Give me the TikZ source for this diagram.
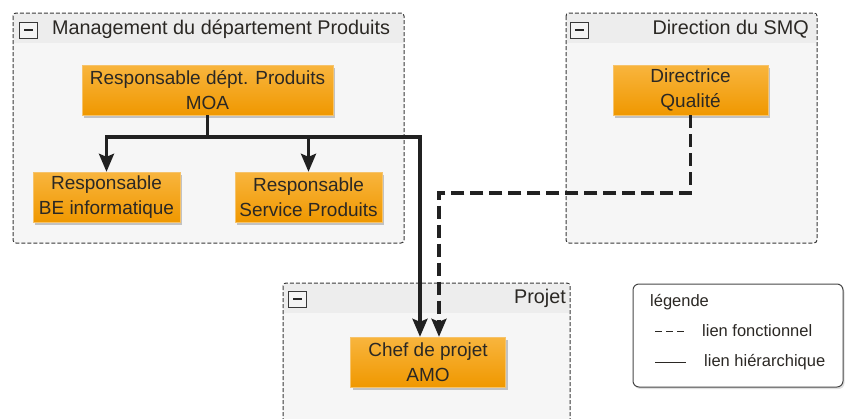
\documentclass[tikz,border=0pt]{standalone}
\usepackage{fontspec}
\setmainfont{Liberation Sans}
\usepackage{tikz}
\usetikzlibrary{arrows.meta}
\usetikzlibrary{positioning,shadows}
\definecolor{OrangeHaut}{HTML}{F8B53E}
\definecolor{OrangeBas}{HTML}{F09800}
\definecolor{OrangeBord}{HTML}{F6C36A}
\definecolor{GrisFond}{HTML}{F6F6F6}
\definecolor{GrisBandeau}{HTML}{EDEDED}
\definecolor{Encre}{HTML}{2B2824}
\colorlet{Trait}{black!87}

\begin{document}
\begin{tikzpicture}[
x=1pt,y=-1pt,
Poste/.style={draw=OrangeBord,thin,top color=OrangeHaut,bottom color=OrangeBas,
  text=Encre,align=center,inner sep=0pt,minimum height=50pt,
  font=\fontsize{19}{25}\selectfont,
  drop shadow={shadow xshift=2pt,shadow yshift=-2.5pt,opacity=0.3,fill=black!70}},
Groupe/.style={draw=black!78,dash pattern=on 4pt off 2pt,line width=1pt,
  fill=GrisFond,rounded corners=3pt},
Bandeau/.style={fill=GrisBandeau},
Moins/.style={draw=black!78,fill=GrisBandeau!60,minimum width=18pt,minimum height=16pt,
  inner sep=0pt,line width=1pt,
  path picture={\fill[black!85] ([xshift=-4.5pt,yshift=-1.2pt]path picture bounding box.center)
    rectangle ([xshift=4.5pt,yshift=1.2pt]path picture bounding box.center);}},
Titre/.style={text=Encre,inner sep=0pt,font=\fontsize{19.8}{22}\selectfont},
Hierarchique/.style={draw=Trait,line width=3.2pt,-{Stealth[length=18pt,width=15pt,inset=3pt]}},
Fonctionnel/.style={Hierarchique,dash pattern=on 13pt off 6pt},
Legende/.style={draw=black!72,fill=white,rounded corners=6pt,line width=1pt,
  drop shadow={shadow xshift=1.5pt,shadow yshift=-2pt,opacity=0.25}},
LegTexte/.style={text=Encre,inner sep=0pt,anchor=west,font=\fontsize{16.5}{20}\selectfont},
LegTrait/.style={draw=Encre,line width=1pt}
]
\useasboundingbox (0,0) rectangle (846,418);
\clip (0,0) rectangle (846,418);

% groupes
\draw[Groupe] (13,13) rectangle (404,243);
\fill[Bandeau] (14,14) rectangle (403,43);
\node[Moins] (MoinsProduits) at (28,30) {};
\node[Titre,anchor=west] (TitreProduits) at (52,29) {Management du département Produits};

\draw[Groupe] (566,13) rectangle (817,243);
\fill[Bandeau] (567,14) rectangle (816,43);
\node[Moins] (MoinsSMQ) at (579,30) {};
\node[Titre,anchor=east] (TitreSMQ) at (809,29) {Direction du SMQ};

\draw[Groupe] (283,283) rectangle (570,440);
\fill[Bandeau] (284,284) rectangle (569,313);
\node[Moins] (MoinsProjet) at (297,299) {};
\node[Titre,anchor=east] (TitreProjet) at (566,298) {Projet};

% postes
\node[Poste,minimum width=251pt] (MOA) at (207.5,90) {Responsable dépt. Produits\\MOA};
\node[Poste,minimum width=147pt] (BE) at (106.5,197) {Responsable\\BE informatique};
\node[Poste,minimum width=147pt] (Service) at (308.5,197) {Responsable\\Service Produits};
\node[Poste,minimum width=155pt] (Directrice) at (690.5,90) {Directrice\\Qualité};
\node[Poste,minimum width=155pt] (Chef) at (428,362) {Chef de projet\\AMO};

\coordinate (Embranchement) at (207.5,137);
\coordinate (Coude) at (690.5,193);

\draw[Hierarchique,-] (MOA.south) -- (Embranchement);
\draw[Hierarchique] (Embranchement) -| (BE.north);
\draw[Hierarchique] (Embranchement) -| (Service.north);
\draw[Hierarchique] (Embranchement) -| ([xshift=-8pt]Chef.north);
\draw[Fonctionnel] (Directrice.south) -- (Coude) -| ([xshift=11pt]Chef.north);

% legende
\node[Legende,minimum width=210pt,minimum height=103pt] (Leg) at (738,335.5) {};
\node[LegTexte] (LegTitre) at (650,302) {légende};
\draw[LegTrait,dash pattern=on 7pt off 4pt] (655,331) -- (685,331);
\node[LegTexte] (LegFonc) at (702,331) {lien fonctionnel};
\draw[LegTrait] (655,362) -- (686,362);
\node[LegTexte] (LegHier) at (704,362) {lien hiérarchique};

\end{tikzpicture}
\end{document}
